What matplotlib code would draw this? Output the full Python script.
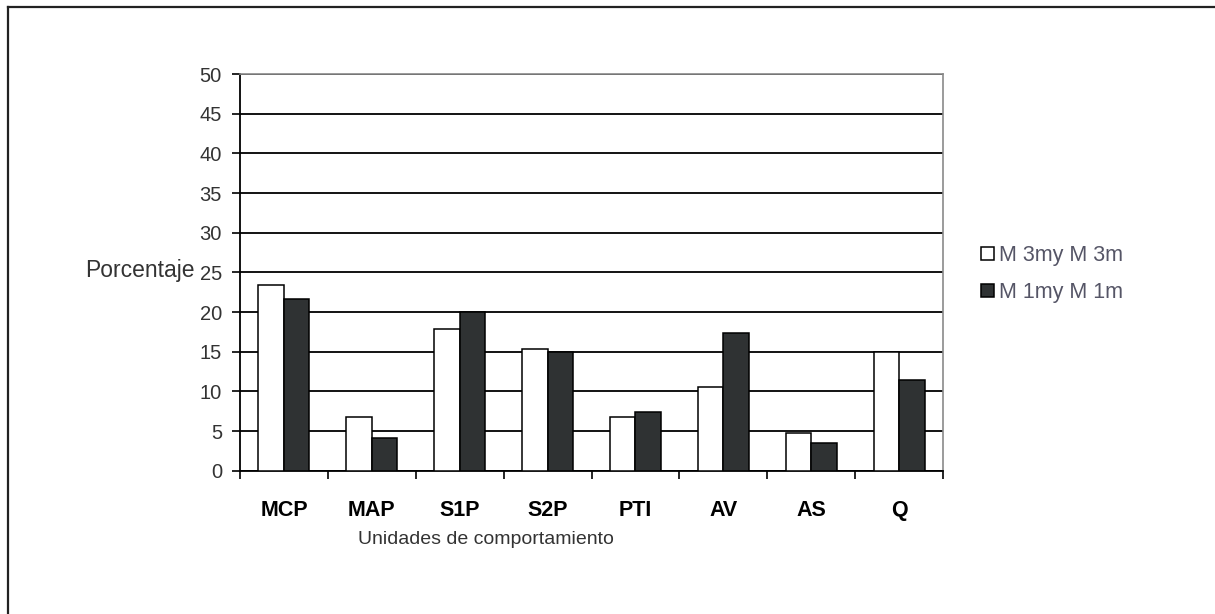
import matplotlib
matplotlib.use("Agg")
import matplotlib.pyplot as plt
from matplotlib.lines import Line2D
import numpy as np

categories = ["MCP", "MAP", "S1P", "S2P", "PTI", "AV", "AS", "Q"]
serie_3m = [23.4, 6.8, 17.8, 15.3, 6.8, 10.6, 4.8, 15.0]
serie_1m = [21.6, 4.1, 20.0, 15.0, 7.4, 17.3, 3.5, 11.4]
series_labels = ["M 3my M 3m", "M 1my M 1m"]
yticks = [0, 5, 10, 15, 20, 25, 30, 35, 40, 45, 50]

plt.rcParams['font.family'] = ['Liberation Sans', 'DejaVu Sans']

W, H = 1215, 614
fig = plt.figure(figsize=(W / 100, H / 100), dpi=100)
fig.patch.set_facecolor("white")

ax = fig.add_axes([240 / W, 1 - 470.7 / H, 703 / W, 396.7 / H])

x = np.arange(len(categories))
bw = 0.29
b1 = ax.bar(x - bw / 2, serie_3m, bw, color="white", edgecolor="black", linewidth=1.1, zorder=3)
b2 = ax.bar(x + bw / 2, serie_1m, bw, color="#2f3233", edgecolor="black", linewidth=1.1, zorder=3)

ax.set_xlim(-0.5, len(categories) - 0.5)
ax.set_ylim(0, 50)
ax.set_yticks(yticks)
ax.set_yticklabels([str(t) for t in yticks], fontsize=14.5, color="#333333")
ax.yaxis.grid(True, color="black", linewidth=1.3, zorder=0)
ax.set_axisbelow(True)

ax.set_xticks(x)
ax.set_xticklabels(categories, fontsize=15.5, fontweight="bold")
ax.tick_params(axis="x", length=0, pad=21)
# category boundary ticks
ax.set_xticks(np.arange(-0.5, len(categories), 1.0), minor=True)
ax.tick_params(axis="x", which="minor", length=6, width=1.2, direction="out", color="black")
ax.tick_params(axis="y", length=6, width=1.2, direction="out", color="black", pad=7)

for s in ["left", "bottom"]:
    ax.spines[s].set_color("black")
    ax.spines[s].set_linewidth(1.3)
for s in ["top", "right"]:
    ax.spines[s].set_color("#8a8a8a")
    ax.spines[s].set_linewidth(1.2)

fig.text(195 / W, 1 - 271 / H, "Porcentaje", fontsize=16.5, color="#333333",
         ha="right", va="center")
fig.text(486 / W, 1 - 540 / H, "Unidades de comportamiento", fontsize=14,
         color="#333333", ha="center", va="center")

leg = ax.legend([b1, b2], series_labels, loc="center left",
                bbox_to_anchor=(972 / W, 1 - 274 / H), bbox_transform=fig.transFigure,
                frameon=False, fontsize=15.5, handlelength=0.6, handleheight=0.6,
                handletextpad=0.25, labelspacing=0.75, borderaxespad=0)
for t in leg.get_texts():
    t.set_color("#555566")

# outer frame (top and left only)
fig.add_artist(Line2D([8 / W, 8 / W], [0, 1 - 7 / H], color="#222222", linewidth=1.6,
                      transform=fig.transFigure))
fig.add_artist(Line2D([8 / W, 1], [1 - 7 / H, 1 - 7 / H], color="#222222", linewidth=1.6,
                      transform=fig.transFigure))

fig.savefig("out.png", dpi=100, facecolor="white")
